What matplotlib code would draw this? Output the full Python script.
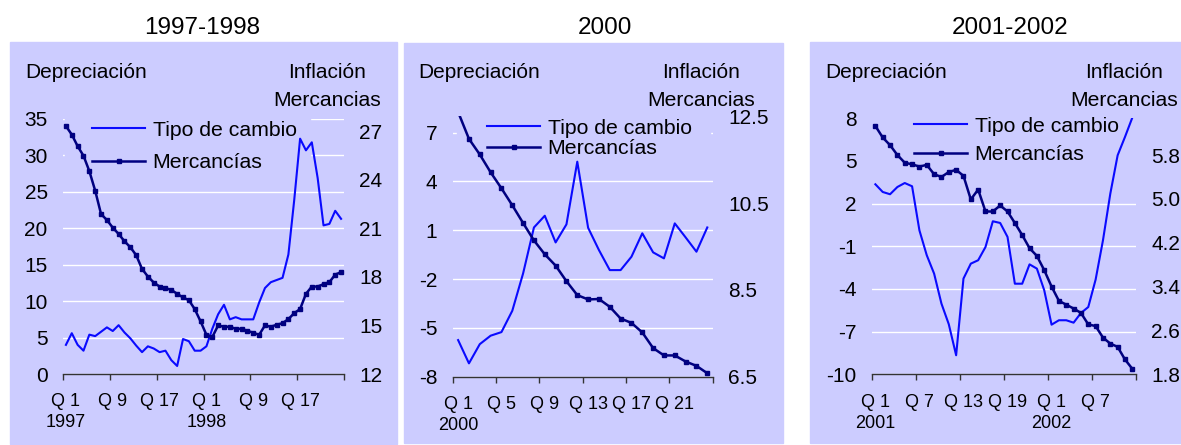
import matplotlib

matplotlib.use("Agg")
import matplotlib.pyplot as plt
import numpy as np
from matplotlib.patches import Rectangle

plt.rcParams["font.family"] = ["Liberation Sans", "DejaVu Sans"]

# ---- data -----------------------------------------------------------------
titles = ["1997-1998", "2000", "2001-2002"]

tipo_9798 = [4.0, 5.6, 4.0, 3.2, 5.4, 5.2, 5.8, 6.4, 5.9, 6.7, 5.7, 4.9,
             3.9, 3.0, 3.8, 3.5, 3.0, 3.2, 1.9, 1.1, 4.8, 4.5, 3.2, 3.2,
             3.8, 6.2, 8.2, 9.5, 7.5, 7.8, 7.5, 7.5, 7.5, 9.8, 11.8, 12.6,
             12.9, 13.2, 16.4, 23.9, 32.3, 30.7, 31.8, 26.9, 20.4, 20.6, 22.4, 21.3]
merc_9798 = [27.31, 26.79, 26.07, 25.48, 24.53, 23.32, 21.88, 21.51, 21.04, 20.65,
             20.20, 19.83, 19.34, 18.49, 18.02, 17.65, 17.40, 17.30, 17.20, 16.95,
             16.73, 16.56, 16.01, 15.25, 14.42, 14.28, 15.00, 14.92, 14.92, 14.79,
             14.79, 14.67, 14.55, 14.42, 15.00, 14.92, 15.04, 15.14, 15.39, 15.76,
             16.01, 16.95, 17.40, 17.40, 17.55, 17.67, 18.14, 18.29]

tipo_2000 = [-5.75, -7.18, -6.0, -5.48, -5.26, -3.95, -1.65, 1.17, 1.89, 0.25,
             1.36, 5.21, 1.15, -0.22, -1.45, -1.45, -0.63, 0.81, -0.36, -0.73,
             1.42, 0.56, -0.32, 1.17]
merc_2000 = [12.6, 11.98, 11.62, 11.21, 10.84, 10.45, 10.04, 9.64, 9.32, 9.06,
             8.70, 8.38, 8.28, 8.29, 8.11, 7.84, 7.74, 7.52, 7.16, 6.99,
             6.99, 6.85, 6.75, 6.58]

tipo_0102 = [3.36, 2.82, 2.66, 3.17, 3.45, 3.22, 0.12, -1.63, -2.92, -5.03,
             -6.48, -8.66, -3.27, -2.22, -1.98, -1.05, 0.76, 0.64, -0.34, -3.63,
             -3.63, -2.27, -2.57, -4.09, -6.51, -6.20, -6.20, -6.37, -5.69, -5.27,
             -3.34, -0.58, 2.70, 5.40, 6.69, 8.05]
merc_0102 = [6.33, 6.12, 5.98, 5.80, 5.66, 5.63, 5.59, 5.62, 5.45, 5.40,
             5.49, 5.53, 5.42, 4.99, 5.17, 4.77, 4.77, 4.88, 4.77, 4.56,
             4.34, 4.10, 3.96, 3.70, 3.40, 3.14, 3.07, 3.00, 2.92, 2.71,
             2.68, 2.47, 2.36, 2.30, 2.07, 1.90]

xlabels_9798 = ["Q 1\n1997", "Q 9", "Q 17", "Q 1\n1998", "Q 9", "Q 17"]
xlabels_2000 = ["Q 1\n2000", "Q 5", "Q 9", "Q 13", "Q 17", "Q 21"]
xlabels_0102 = ["Q 1\n2001", "Q 7", "Q 13", "Q 19", "Q 1\n2002", "Q 7"]

left_ticks = [np.arange(0, 36, 5), np.arange(-8, 8, 3), np.arange(-10, 9, 3)]
right_ticks = [np.arange(12, 28, 3), [6.5, 8.5, 10.5, 12.5], [1.8, 2.6, 3.4, 4.2, 5.0, 5.8]]
left_lims = [(0, 35), (-8, 8), (-10, 8)]
right_lims = [(12, 27.75), (6.5, 12.5), (1.8, 6.47)]
right_fmt = ["{:.0f}", "{:.1f}", "{:.1f}"]
label_step = [8, 4, 6]

# ---- layout (pixels) -------------------------------------------------------
W, H = 1181, 445
BG = "#CCCCFF"
C_TIPO = "#0A0AFF"
C_MERC = "#000080"

panel_bg = [(10, 42, 397, 444), (404, 43, 783, 443), (810, 42, 1181, 443)]
axes_px = [(63, 119, 344, 374), (452.7, 116.3, 712.7, 376.7), (871.7, 118.3, 1136, 374.3)]
title_x = [202, 605, 1010]
dep_x = [25, 418, 825]
inf_x = [327, 701, 1124]
legend_px = [(92, 130, 163), (487, 128, 149), (914, 126, 155)]
# legend box that hides the grid (axes fraction: x0, x1, y0)
cover = [(0.007, 0.88, 0.76), (0.015, 0.99, 0.83), (-0.01, 1.01, 0.76)]

fig = plt.figure(figsize=(W / 100, H / 100), dpi=100)

series = [(tipo_9798, merc_9798, xlabels_9798),
          (tipo_2000, merc_2000, xlabels_2000),
          (tipo_0102, merc_0102, xlabels_0102)]

for k, (tipo, merc, xlabels) in enumerate(series):
    x0, y0, x1, y1 = panel_bg[k]
    fig.add_artist(Rectangle((x0 / W, 1 - y1 / H), (x1 - x0) / W, (y1 - y0) / H,
                             transform=fig.transFigure, color=BG, zorder=0))
    fig.text(title_x[k] / W, 1 - 28 / H, titles[k], ha="center", va="center",
             fontsize=17.5)
    fig.text(dep_x[k] / W, 1 - 72 / H, "Depreciación", ha="left", va="center",
             fontsize=15)
    fig.text(inf_x[k] / W, 1 - 72 / H, "Inflación", ha="center", va="center",
             fontsize=15)
    fig.text(inf_x[k] / W, 1 - 100 / H, "Mercancias", ha="center", va="center",
             fontsize=15.2)

    l, t, r, b = axes_px[k]
    ax = fig.add_axes([l / W, 1 - b / H, (r - l) / W, (b - t) / H])
    ax.set_facecolor("none")
    ax2 = ax.twinx()
    ax2.set_facecolor("none")

    n = len(tipo)
    x = np.arange(n)
    ax.set_axisbelow(True)
    ax.grid(True, axis="y", color="white", lw=1.0)
    cx0, cx1, cy0 = cover[k]
    ax.add_patch(Rectangle((cx0, cy0), cx1 - cx0, 1.03 - cy0, transform=ax.transAxes,
                           color=BG, zorder=1, clip_on=False))
    lt, = ax.plot(x, tipo, color=C_TIPO, lw=1.5, zorder=2)
    lm, = ax2.plot(x, merc, color=C_MERC, lw=1.8, marker="s", ms=3.3)

    ax.set_xlim(-0.5, n - 0.5)
    ax.set_ylim(*left_lims[k])
    ax2.set_ylim(*right_lims[k])
    ax.set_yticks(left_ticks[k])
    ax.set_yticklabels([f"{v:g}" for v in left_ticks[k]])
    ax2.set_yticks(right_ticks[k])
    ax2.set_yticklabels([right_fmt[k].format(v) for v in right_ticks[k]])

    step = label_step[k]
    ax.set_xticks(np.arange(-0.5, n, step))
    ax.set_xticklabels([])
    ax.set_xticks(np.arange(0, n, step), xlabels, minor=True)
    ax.tick_params(axis="x", which="major", direction="out", length=4,
                   width=1, color="#333333")
    ax.tick_params(axis="x", which="minor", length=0, pad=14, labelsize=13)
    ax.tick_params(axis="y", length=0, pad=11, labelsize=15)
    ax2.tick_params(axis="y", length=0, pad=11, labelsize=15)
    for lab in ax.get_xticklabels(minor=True):
        lab.set_linespacing(1.3)

    for a in (ax, ax2):
        for s in ("left", "right", "top"):
            a.spines[s].set_visible(False)
    ax2.spines["bottom"].set_visible(False)
    ax.spines["bottom"].set_color("#333333")
    ax.spines["bottom"].set_linewidth(1)

    lx, ly1, ly2 = legend_px[k]
    for h, lab, ly in ((lt, "Tipo de cambio", ly1), (lm, "Mercancías", ly2)):
        fig.legend([h], [lab], loc="center left",
                   bbox_to_anchor=(lx / W, 1 - ly / H), frameon=False,
                   handlelength=2.5, handletextpad=0.35, borderpad=0,
                   borderaxespad=0, fontsize=15.3, numpoints=1)

fig.savefig("out.png", dpi=100, facecolor="white")
